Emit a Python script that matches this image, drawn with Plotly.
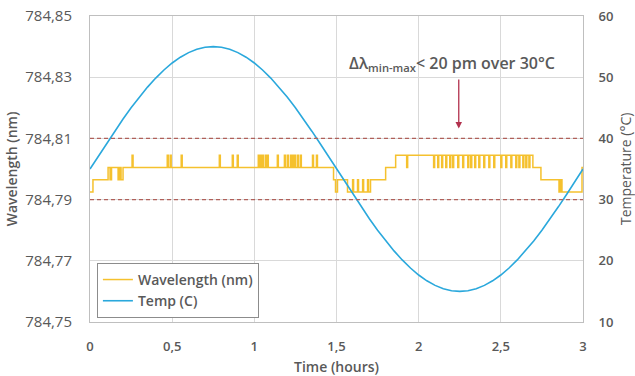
import plotly.graph_objects as go

# ---------------- data ----------------
# Temperature (right axis), sampled every 0.05 h
temp_time = [round(0.05 * k, 2) for k in range(61)]
temp_values = [35.00, 37.09, 39.16, 41.18, 43.13, 45.00, 46.76, 48.38, 49.86, 51.18,
               52.32, 53.27, 54.02, 54.56, 54.89, 55.00, 54.89, 54.56, 54.02, 53.27,
               52.32, 51.18, 49.86, 48.38, 46.76, 45.00, 43.13, 41.18, 39.16, 37.09,
               35.00, 32.91, 30.84, 28.82, 26.87, 25.00, 23.24, 21.62, 20.14, 18.82,
               17.68, 16.73, 15.98, 15.44, 15.11, 15.00, 15.11, 15.44, 15.98, 16.73,
               17.68, 18.82, 20.14, 21.62, 23.24, 25.00, 26.87, 28.82, 30.84, 32.91,
               35.00]

# Wavelength (left axis): base step levels
wl_step_time = [0.000, 0.018, 0.110, 0.122, 0.131, 0.171, 0.180, 0.189, 0.201,
                1.482, 1.494, 1.506, 1.567, 1.707, 1.799, 1.860, 2.695, 2.744,
                2.854, 2.863, 2.872, 2.994, 3.000]
wl_step_value = [784.7925, 784.7965, 784.8005, 784.7965, 784.8005, 784.7965, 784.8005, 784.7965, 784.8005,
                 784.7965, 784.7925, 784.7965, 784.7925, 784.7965, 784.8005, 784.8045, 784.8005, 784.7965,
                 784.7925, 784.7965, 784.7925, 784.8005, 784.8005]

# short one-sample spikes (time, spike value)
wl_spike_time = [0.256, 0.470, 0.488, 0.555, 0.787, 0.866, 0.896, 1.024, 1.037, 1.049,
                 1.067, 1.079, 1.140, 1.183, 1.201, 1.220, 1.232, 1.244, 1.262, 1.280,
                 1.354, 1.378,
                 1.598, 1.628, 1.659, 1.689,
                 1.927, 2.091, 2.116, 2.140, 2.165, 2.189, 2.207, 2.238, 2.268, 2.299,
                 2.317, 2.341, 2.366, 2.396, 2.427, 2.457, 2.500, 2.530, 2.561, 2.591,
                 2.610, 2.634, 2.652, 2.671]
wl_spike_value = [784.8045] * 22 + [784.7965] * 4 + [784.8005] * 24
spike_width = 0.006

x_ticks = [0, 0.5, 1, 1.5, 2, 2.5, 3]
wl_limits = [784.81, 784.79]

# ---------------- build step series ----------------
def base_at(t):
    v = wl_step_value[0]
    for tt, vv in zip(wl_step_time, wl_step_value):
        if tt <= t:
            v = vv
    return v

events = list(zip(wl_step_time, wl_step_value))
for t, v in zip(wl_spike_time, wl_spike_value):
    events.append((t, v))
    events.append((t + spike_width, base_at(t)))
events.sort(key=lambda e: e[0])
wl_x = [e[0] for e in events]
wl_y = [e[1] for e in events]

TXT = "#595959"
FONT = "Open Sans"
CLEAR = "rgba(0,0,0,0)"

fig = go.Figure()
fig.add_trace(go.Scatter(x=wl_x, y=wl_y, mode="lines", line_shape="hv",
                         name="Wavelength (nm)", line=dict(color="#F5C12E", width=1.5)))
fig.add_trace(go.Scatter(x=temp_time, y=temp_values, mode="lines", yaxis="y2",
                         name="Temp (C)", line=dict(color="#2AA8DC", width=1.6)))

for yv in wl_limits:
    fig.add_shape(type="line", xref="x", yref="y", x0=0, x1=3, y0=yv, y1=yv,
                  line=dict(color="#B0605A", width=1.4, dash="4px,3px"))

fig.add_annotation(x=2.205, y=784.8345, xref="x", yref="y",
                   text="Δλ<sub>min-max</sub>< 20 pm over 30°C", showarrow=False,
                   font=dict(family=FONT, size=16, color=TXT, weight=600))
fig.add_annotation(x=2.244, y=784.8132, xref="x", yref="y",
                   ax=2.244, ay=784.8297, axref="x", ayref="y",
                   text="", showarrow=True, arrowhead=2, arrowsize=1, arrowwidth=1.3,
                   arrowcolor="#B2324E")
# right axis title
fig.add_annotation(x=1.0852, y=0.5, xref="paper", yref="paper", xanchor="center",
                   yanchor="middle", textangle=-90, showarrow=False,
                   text="Temperature (°C)", font=dict(family=FONT, size=14, color=TXT))

fig.update_layout(
    width=635, height=376,
    margin=dict(l=90, r=52, t=16, b=54),
    paper_bgcolor="white", plot_bgcolor="white",
    separators=", ",
    font=dict(family=FONT, color=TXT, size=13),
    showlegend=True,
    legend=dict(x=0.014, y=0.193, xanchor="left", yanchor="top",
                bordercolor="#8C8C8C", borderwidth=1, bgcolor="white",
                font=dict(family=FONT, size=14, color=TXT, weight=600),
                itemwidth=30, tracegroupgap=2),
    xaxis=dict(range=[0, 3], tickvals=x_ticks, showgrid=True, gridcolor="#D9D9D9",
               zeroline=False, showline=True, linecolor="#BFBFBF", mirror=True,
               ticks="outside", ticklen=12, tickcolor=CLEAR, automargin=False,
               ticklabeloverflow="allow",
               tickfont=dict(size=13, color=TXT, weight=600),
               title=dict(text="Time (hours)", font=dict(size=14, color=TXT, weight=600), standoff=9)),
    yaxis=dict(range=[784.75, 784.85], dtick=0.02, tick0=784.75, tickformat=".2f",
               showgrid=True, gridcolor="#D9D9D9", zeroline=False,
               showline=True, linecolor="#BFBFBF", mirror=True,
               ticks="outside", ticklen=14, tickcolor=CLEAR, automargin=False,
               ticklabeloverflow="allow",
               tickfont=dict(size=15, color=TXT),
               title=dict(text="Wavelength (nm)", font=dict(size=14, color=TXT, weight=600), standoff=4)),
    yaxis2=dict(range=[10, 60], dtick=10, overlaying="y", side="right",
                showgrid=False, zeroline=False, automargin=False,
                ticks="outside", ticklen=12, tickcolor=CLEAR,
                ticklabeloverflow="allow",
                tickfont=dict(size=13, color=TXT, weight=600)),
)

# remove the default 8px page margin so the figure fills the window exactly
fig.write_html("out.html", config={"displayModeBar": False},
               post_script="document.body.style.margin='0';")
